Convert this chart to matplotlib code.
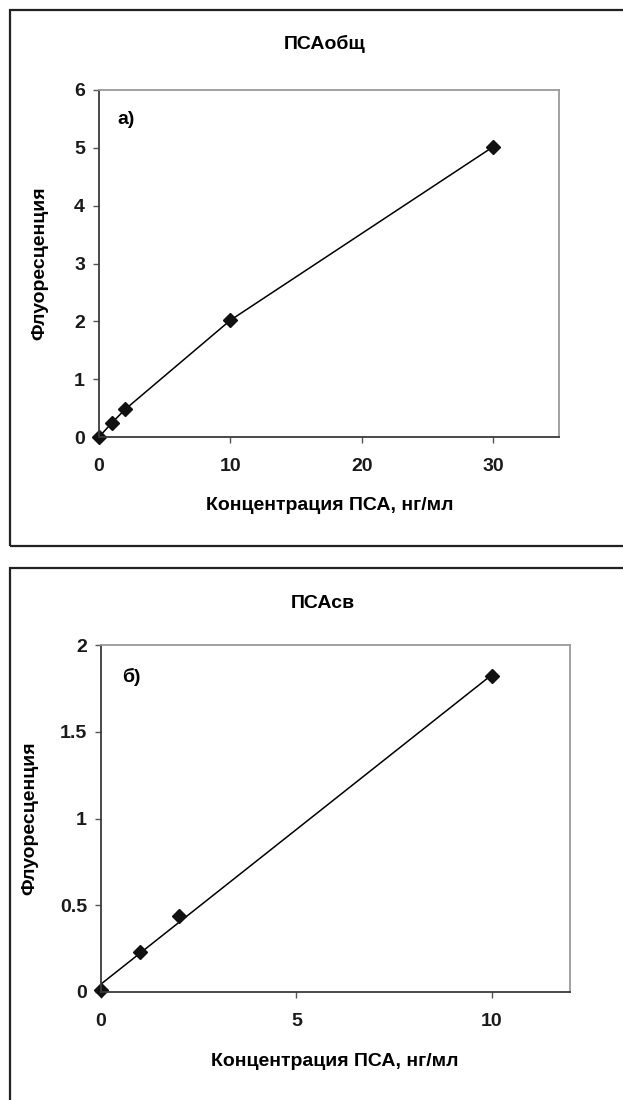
import numpy as np
import matplotlib
matplotlib.use("Agg")
import matplotlib.pyplot as plt
from matplotlib.patches import Rectangle

# --- DATA
conc_total = [0, 1, 2, 10, 30]
fluor_total = [0.0, 0.25, 0.48, 2.02, 5.02]

conc_free = [0, 1, 2, 10]
fluor_free = [0.01, 0.23, 0.44, 1.82]

title_total = "ПСАобщ"
title_free = "ПСАсв"
xlabel = "Концентрация ПСА, нг/мл"
ylabel = "Флуоресценция"

plt.rcParams['font.family'] = ['Liberation Sans', 'DejaVu Sans']
plt.rcParams['font.weight'] = 'bold'
FS = 14

W, H = 623, 1100
fig = plt.figure(figsize=(W / 100, H / 100), dpi=100)


def px(x, y):
    return x / W, 1 - y / H


def style_axes(ax):
    ax.spines['left'].set_color('#3a3a3a')
    ax.spines['bottom'].set_color('#3a3a3a')
    ax.spines['top'].set_color('#9a9a9a')
    ax.spines['right'].set_color('#9a9a9a')
    for s in ax.spines.values():
        s.set_linewidth(1.3)
    ax.tick_params(direction='out', length=4, width=1, color='#555555',
                   labelsize=FS, top=False, right=False)
    ax.tick_params(axis='y', pad=6)
    ax.tick_params(axis='x', pad=11)
    for lab in ax.get_xticklabels() + ax.get_yticklabels():
        lab.set_fontweight('bold')
        lab.set_color('#1a1a1a')


# --- outer frames
fig.patches.append(Rectangle(px(10, 546), 700 / W, 536 / H, transform=fig.transFigure,
                             fill=False, edgecolor='#222222', linewidth=1.6, clip_on=False))
fig.patches.append(Rectangle(px(10, 1300), 700 / W, 732 / H, transform=fig.transFigure,
                             fill=False, edgecolor='#222222', linewidth=1.6, clip_on=False))

# --- panel a)
ax1 = fig.add_axes([99 / W, 1 - 437 / H, 460 / W, 347 / H])
ax1.plot(conc_total, fluor_total, color='black', linewidth=1.1, marker='D',
         markersize=7, markerfacecolor='#111111', markeredgecolor='#111111', clip_on=False)
ax1.set_xlim(0, 35)
ax1.set_ylim(0, 6)
ax1.set_xticks([0, 10, 20, 30])
ax1.set_yticks([0, 1, 2, 3, 4, 5, 6])
style_axes(ax1)
ax1.text(0.041, 0.914, "а)", transform=ax1.transAxes, ha='left', va='center',
         fontsize=FS, fontweight='bold')
fig.text(*px(40, 263), ylabel, ha='center', va='center', rotation=90,
         fontsize=FS, fontweight='bold')
fig.text(*px(325, 44), title_total, ha='center', va='center', fontsize=FS, fontweight='bold')
fig.text(*px(330, 505), xlabel, ha='center', va='center', fontsize=FS, fontweight='bold')

# --- panel б)
ax2 = fig.add_axes([101 / W, 1 - 992 / H, 469 / W, 347 / H])
slope, intercept = np.polyfit(conc_free, fluor_free, 1)
xfit = np.array([min(conc_free), max(conc_free)])
ax2.plot(xfit, slope * xfit + intercept, color='black', linewidth=1.1)
ax2.plot(conc_free, fluor_free, linestyle='none', marker='D', markersize=7,
         markerfacecolor='#111111', markeredgecolor='#111111', clip_on=False)
ax2.set_xlim(0, 12)
ax2.set_ylim(0, 2)
ax2.set_xticks([0, 5, 10])
ax2.set_yticks([0, 0.5, 1, 1.5, 2])
ax2.set_yticklabels(["0", "0.5", "1", "1.5", "2"])
style_axes(ax2)
ax2.text(0.045, 0.908, "б)", transform=ax2.transAxes, ha='left', va='center',
         fontsize=FS, fontweight='bold')
fig.text(*px(30, 818), ylabel, ha='center', va='center', rotation=90,
         fontsize=FS, fontweight='bold')
fig.text(*px(323, 604), title_free, ha='center', va='center', fontsize=FS, fontweight='bold')
fig.text(*px(335, 1062), xlabel, ha='center', va='center', fontsize=FS, fontweight='bold')

fig.savefig("out.png", dpi=100)
